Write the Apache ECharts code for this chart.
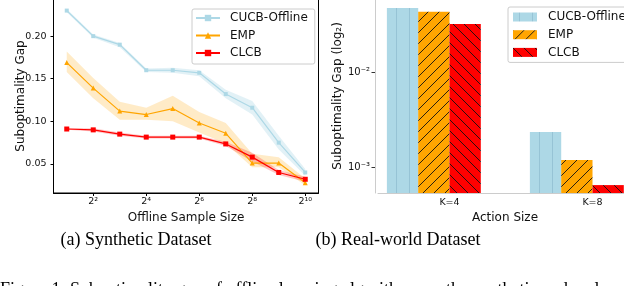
<!DOCTYPE html>
<html><head><meta charset="utf-8">
<script src="https://cdn.jsdelivr.net/npm/echarts@6/dist/echarts.min.js"></script>
<style>html,body{margin:0;padding:0;background:#fff}#c{width:624px;height:286px}</style>
</head><body><div id="c"></div>
<script>
// ---------- (a) Synthetic dataset ----------
const exponents = [1, 2, 3, 4, 5, 6, 7, 8, 9, 10];
const cucbMean = [0.230, 0.200, 0.190, 0.160, 0.160, 0.157, 0.132, 0.116, 0.075, 0.040];
const cucbLo   = [0.228, 0.198, 0.187, 0.158, 0.157, 0.153, 0.127, 0.108, 0.067, 0.036];
const cucbHi   = [0.232, 0.202, 0.192, 0.162, 0.163, 0.160, 0.137, 0.124, 0.083, 0.044];
const empMean  = [0.169, 0.139, 0.112, 0.108, 0.115, 0.098, 0.086, 0.051, 0.051, 0.028];
const empLo    = [0.158, 0.127, 0.102, 0.102, 0.100, 0.087, 0.074, 0.046, 0.046, 0.025];
const empHi    = [0.182, 0.151, 0.123, 0.116, 0.130, 0.111, 0.098, 0.062, 0.058, 0.033];
const clcbMean = [0.091, 0.090, 0.085, 0.0815, 0.0815, 0.0815, 0.0735, 0.058, 0.040, 0.032];
const clcbLo   = [0.090, 0.088, 0.083, 0.080, 0.080, 0.080, 0.071, 0.053, 0.037, 0.029];
const clcbHi   = [0.092, 0.092, 0.087, 0.083, 0.083, 0.083, 0.076, 0.063, 0.043, 0.035];
const xTickExps = [2, 4, 6, 8, 10];
const yTicksA = [0.05, 0.10, 0.15, 0.20];

// ---------- (b) Real-world dataset ----------
const actionCats = ['K=4', 'K=8'];
const barCucb = [0.0470, 0.00235];
const barEmp  = [0.0427, 0.00119];
const barClcb = [0.0319, 0.00065];
const logTickExps = [-3, -2];

const seriesNames = ['CUCB-Offline', 'EMP', 'CLCB'];

// ---------- helpers ----------
const SUP = {'0':'⁰','1':'¹','2':'²','3':'³','4':'⁴','5':'⁵','6':'⁶','7':'⁷','8':'⁸','9':'⁹','-':'⁻'};
const sup = s => String(s).split('').map(c => SUP[c] || c).join('');
const diff = (a, b) => a.map((v, i) => +(v - b[i]).toFixed(5));
const showTick = (i) => xTickExps.indexOf(exponents[i]) >= 0;

const L0 = -3.27, L1 = -1.2345;           // log10 range of panel (b)
const lg = v => Math.log10(v) - L0;
const minorTicks = [];
for (let e = -4; e <= -1; e++) for (let k = 2; k <= 9; k++) {
  const v = Math.log10(k * Math.pow(10, e));
  if (v > L0 && v < L1) minorTicks.push(v - L0);
}

function hatch(bg, kind, line, w, h) {
  const c = document.createElement('canvas');
  c.width = w; c.height = h;
  const g = c.getContext('2d');
  g.fillStyle = bg; g.fillRect(0, 0, w, h);
  g.strokeStyle = line; g.lineWidth = 0.9;
  g.beginPath();
  if (kind === 'v') { g.moveTo(w / 2, 0); g.lineTo(w / 2, h); }
  else if (kind === '/') {
    g.moveTo(0, h); g.lineTo(w, 0);
    g.moveTo(-1, 1); g.lineTo(1, -1);
    g.moveTo(w - 1, h + 1); g.lineTo(w + 1, h - 1);
  } else {
    g.moveTo(0, 0); g.lineTo(w, h);
    g.moveTo(w - 1, -1); g.lineTo(w + 1, 1);
    g.moveTo(-1, h - 1); g.lineTo(1, h + 1);
  }
  g.stroke();
  return { image: c, repeat: 'repeat' };
}
const patCucb = hatch('#add8e6', 'v', '#93c1d2', 13, 4);
const patEmp  = hatch('#ffa500', '/', '#111', 11, 11);
const patClcb = hatch('#ff0000', '\\', '#111', 11, 11);

const FONT = 'DejaVu Sans';
const colors = ['#add8e6', '#ffa500', '#ff0000'];

function band(name, lo, hi, color) {
  return [
    { name: name + '_lo', type: 'line', xAxisIndex: 0, yAxisIndex: 0, stack: name,
      data: lo, symbol: 'none', lineStyle: { opacity: 0 }, silent: true, z: 1 },
    { name: name + '_w', type: 'line', xAxisIndex: 0, yAxisIndex: 0, stack: name,
      data: diff(hi, lo), symbol: 'none', lineStyle: { opacity: 0 },
      areaStyle: { color: color, opacity: 1 }, silent: true, z: 1 }
  ];
}

const BW = 31.3;
const series = [
  ...band('cucb', cucbLo, cucbHi, 'rgba(173,216,230,0.35)'),
  ...band('emp', empLo, empHi, 'rgba(255,165,0,0.22)'),
  ...band('clcb', clcbLo, clcbHi, 'rgba(255,0,0,0.22)'),
  { name: seriesNames[0], type: 'line', xAxisIndex: 0, yAxisIndex: 0, data: cucbMean,
    symbol: 'rect', symbolSize: 4, color: colors[0], lineStyle: { width: 1.2 }, z: 3 },
  { name: seriesNames[1], type: 'line', xAxisIndex: 0, yAxisIndex: 0, data: empMean,
    symbol: 'triangle', symbolSize: 5, color: colors[1], lineStyle: { width: 1.2 }, z: 3 },
  { name: seriesNames[2], type: 'line', xAxisIndex: 0, yAxisIndex: 0, data: clcbMean,
    symbol: 'rect', symbolSize: 5, color: colors[2], lineStyle: { width: 1.2 }, z: 3 },
  // panel (b) bars (names carry a trailing space to keep the two legends apart)
  { name: seriesNames[0] + ' ', type: 'bar', xAxisIndex: 1, yAxisIndex: 1, barWidth: BW, barGap: '0%',
    data: barCucb.map(lg), itemStyle: { color: patCucb } },
  { name: seriesNames[1] + ' ', type: 'bar', xAxisIndex: 1, yAxisIndex: 1, barWidth: BW, barGap: '0%',
    data: barEmp.map(lg), itemStyle: { color: patEmp } },
  { name: seriesNames[2] + ' ', type: 'bar', xAxisIndex: 1, yAxisIndex: 1, barWidth: BW, barGap: '0%',
    data: barClcb.map(lg), itemStyle: { color: patClcb } },
  { name: '_gap', type: 'bar', xAxisIndex: 1, yAxisIndex: 1, barWidth: BW, barGap: '0%',
    data: actionCats.map(() => 0), itemStyle: { color: 'rgba(0,0,0,0)' }, silent: true }
];

const txt = { fontFamily: FONT, fontSize: 12, color: '#111' };
const tickLbl = { fontFamily: FONT, fontSize: 9.5, color: '#111' };

const option = {
  animation: false,
  backgroundColor: '#fff',
  grid: [
    { left: 53.5, top: -1, width: 265, height: 194, show: true, borderColor: '#000', borderWidth: 1,
      backgroundColor: 'transparent', outerBoundsMode: 'none', containLabel: false },
    { left: 378, top: -1, width: 286, height: 194, outerBoundsMode: 'none', containLabel: false }
  ],
  xAxis: [
    { type: 'category', gridIndex: 0, data: exponents, boundaryGap: true,
      name: 'Offline Sample Size', nameLocation: 'middle', nameGap: 19, nameMoveOverlap: false, nameTextStyle: txt,
      axisLine: { show: true, lineStyle: { color: '#000', width: 1 } },
      axisTick: { show: true, length: 3, alignWithLabel: true, interval: showTick, lineStyle: { color: '#000' } },
      axisLabel: { ...tickLbl, margin: 4, interval: showTick, formatter: v => '2' + sup(v) },
      splitLine: { show: false } },
    { type: 'category', gridIndex: 1, data: actionCats, boundaryGap: true,
      name: 'Action Size', nameLocation: 'middle', nameGap: 19, nameMoveOverlap: false,
      nameTextStyle: { ...txt, padding: [0, 32, 0, 0] },
      axisLine: { show: true, lineStyle: { color: '#cccccc', width: 1 } },
      axisTick: { show: false },
      axisLabel: { ...tickLbl, margin: 5 },
      splitLine: { show: false } }
  ],
  yAxis: [
    { type: 'value', gridIndex: 0, min: 0.0159, max: 0.2436,
      name: 'Suboptimality Gap', nameLocation: 'middle', nameGap: 27, nameMoveOverlap: false, nameTextStyle: txt,
      axisLine: { show: true, lineStyle: { color: '#000', width: 1 } },
      axisTick: { show: true, length: 3, customValues: yTicksA, lineStyle: { color: '#000' } },
      axisLabel: { ...tickLbl, margin: 7, customValues: yTicksA, formatter: v => v.toFixed(2) },
      splitLine: { show: false } },
    { type: 'value', gridIndex: 1, min: 0, max: L1 - L0, offset: 3,
      name: 'Suboptimality Gap (log₂)', nameLocation: 'middle', nameGap: 31, nameMoveOverlap: false, nameTextStyle: txt,
      axisLine: { show: true, lineStyle: { color: '#cccccc', width: 1 } },
      axisTick: { show: true, length: 3.5, customValues: logTickExps.map(e => e - L0), lineStyle: { color: '#333' } },
      axisLabel: { ...tickLbl, fontSize: 10, margin: 5, customValues: logTickExps.map(e => e - L0),
                   formatter: v => '10' + sup(Math.round(v + L0)) },
      splitLine: { show: false } },
    { type: 'value', gridIndex: 1, min: 0, max: L1 - L0, offset: 3,
      axisLine: { show: false },
      axisTick: { show: true, length: 2, customValues: minorTicks, lineStyle: { color: '#333' } },
      axisLabel: { show: false },
      splitLine: { show: false } }
  ],
  legend: [
    { data: seriesNames, left: 192, top: 9, orient: 'vertical',
      itemWidth: 24, itemHeight: 8, itemGap: 3.5,
      padding: [2, 7, 4, 3], backgroundColor: 'rgba(255,255,255,0.85)',
      borderColor: '#cccccc', borderWidth: 1, borderRadius: 2,
      textStyle: { ...txt, lineHeight: 14, padding: [0, 0, 0, 5] }, selectedMode: false },
    { data: seriesNames.map(n => n + ' '), left: 508, top: 7, orient: 'vertical',
      itemWidth: 24, itemHeight: 9, itemGap: 3.7, icon: 'rect',
      padding: [3, 30, 3, 5], backgroundColor: 'rgba(255,255,255,0.85)',
      borderColor: '#cccccc', borderWidth: 1, borderRadius: 2,
      formatter: n => n.trim(),
      textStyle: { ...txt, lineHeight: 14, padding: [0, 0, 0, 6] }, selectedMode: false }
  ],
  graphic: [
    { type: 'text', x: 136, y: 240, style: { text: '(a) Synthetic Dataset', font: '18px "Liberation Serif"', fill: '#000', textAlign: 'center', textVerticalAlign: 'middle' } },
    { type: 'text', x: 398, y: 240, style: { text: '(b) Real-world Dataset', font: '18px "Liberation Serif"', fill: '#000', textAlign: 'center', textVerticalAlign: 'middle' } },
    { type: 'text', x: 0, y: 281, style: { text: 'Figure 1: Suboptimality gap of offline learning algorithms on the synthetic and real-world datasets.', font: '18px "Liberation Serif"', fill: '#000', textAlign: 'left', textVerticalAlign: 'top' } }
  ],
  series
};

const chart = echarts.init(document.getElementById('c'), null, { renderer: 'canvas', width: 624, height: 286 });
chart.setOption(option);
</script>
</body></html>
